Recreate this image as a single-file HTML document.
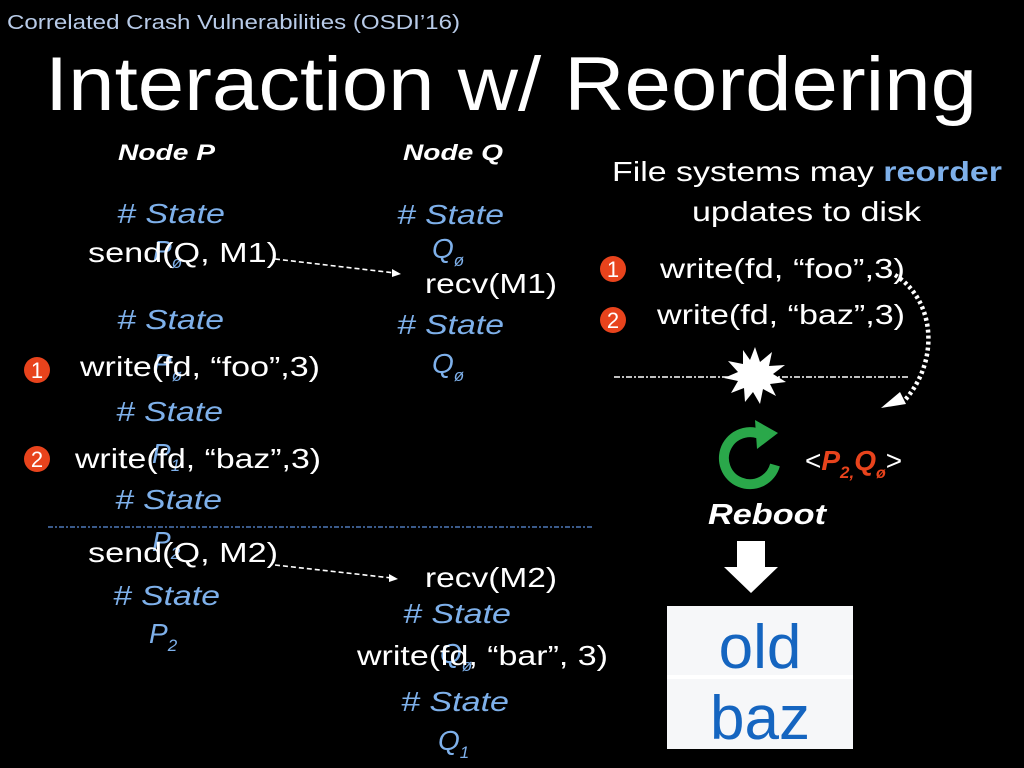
<!DOCTYPE html>
<html><head><meta charset="utf-8"><style>
html,body{margin:0;padding:0;background:#000;width:1024px;height:768px;overflow:hidden}
svg{display:block;font-family:"Liberation Sans",Arial,sans-serif}
svg text{font-family:"Liberation Sans",Arial,sans-serif}
.w{fill:#fff;font-size:28px}
.s{fill:#7eb0ea;font-size:28px;font-style:italic}
.c{fill:#e8431c}
.cn{fill:#fff;font-size:22px}
</style></head><body>
<svg width="1024" height="768" viewBox="0 0 1024 768" font-family="Liberation Sans, Arial, sans-serif">
<text x="7" y="29" fill="#b8cbe8" font-size="20" textLength="453" lengthAdjust="spacingAndGlyphs">Correlated Crash Vulnerabilities (OSDI’16)</text>
<text x="45" y="110" fill="#fff" font-size="76" textLength="932" lengthAdjust="spacingAndGlyphs">Interaction w/ Reordering</text>
<text x="118" y="160" fill="#fff" font-size="22" font-weight="bold" font-style="italic" textLength="97" lengthAdjust="spacingAndGlyphs">Node P</text>
<text x="403" y="160" fill="#fff" font-size="22" font-weight="bold" font-style="italic" textLength="100" lengthAdjust="spacingAndGlyphs">Node Q</text>

<!-- P column -->
<text class="s" x="117" y="223" textLength="108" lengthAdjust="spacingAndGlyphs"># State</text>
<text class="s" x="153" y="260">P<tspan font-size="17" dy="8">ø</tspan></text>
<text class="w" x="88" y="262" textLength="190" lengthAdjust="spacingAndGlyphs">send(Q, M1)</text>
<text class="s" x="117" y="329" textLength="107" lengthAdjust="spacingAndGlyphs"># State</text>
<text class="s" x="153" y="373">P<tspan font-size="17" dy="8">ø</tspan></text>
<text class="w" x="80" y="376" textLength="240" lengthAdjust="spacingAndGlyphs">write(fd, “foo”,3)</text>
<text class="s" x="116" y="421" textLength="107" lengthAdjust="spacingAndGlyphs"># State</text>
<text class="s" x="152" y="463">P<tspan font-size="17" dy="8">1</tspan></text>
<text class="w" x="75" y="468" textLength="246" lengthAdjust="spacingAndGlyphs">write(fd, “baz”,3)</text>
<text class="s" x="115" y="509" textLength="107" lengthAdjust="spacingAndGlyphs"># State</text>
<text class="s" x="152" y="551">P<tspan font-size="17" dy="8">2</tspan></text>
<text class="w" x="88" y="562" textLength="190" lengthAdjust="spacingAndGlyphs">send(Q, M2)</text>
<text class="s" x="113" y="605" textLength="107" lengthAdjust="spacingAndGlyphs"># State</text>
<text class="s" x="149" y="643">P<tspan font-size="17" dy="8">2</tspan></text>

<circle class="c" cx="37" cy="370" r="13"/><text class="cn" x="37" y="378" text-anchor="middle">1</text>
<circle class="c" cx="37" cy="459" r="13"/><text class="cn" x="37" y="467" text-anchor="middle">2</text>

<!-- Q column -->
<text class="s" x="397" y="224" textLength="107" lengthAdjust="spacingAndGlyphs"># State</text>
<text class="s" x="432" y="258">Q<tspan font-size="17" dy="8">ø</tspan></text>
<text class="w" x="425" y="293" textLength="132" lengthAdjust="spacingAndGlyphs">recv(M1)</text>
<text class="s" x="397" y="334" textLength="107" lengthAdjust="spacingAndGlyphs"># State</text>
<text class="s" x="432" y="373">Q<tspan font-size="17" dy="8">ø</tspan></text>
<text class="w" x="425" y="587" textLength="132" lengthAdjust="spacingAndGlyphs">recv(M2)</text>
<text class="s" x="403" y="623" textLength="108" lengthAdjust="spacingAndGlyphs"># State</text>
<text class="s" x="440" y="663">Q<tspan font-size="17" dy="8">ø</tspan></text>
<text class="w" x="357" y="665" textLength="251" lengthAdjust="spacingAndGlyphs">write(fd, “bar”, 3)</text>
<text class="s" x="401" y="711" textLength="108" lengthAdjust="spacingAndGlyphs"># State</text>
<text class="s" x="438" y="750">Q<tspan font-size="17" dy="8">1</tspan></text>

<!-- arrows -->
<line x1="275" y1="259" x2="395" y2="273" stroke="#fff" stroke-width="1.6" stroke-dasharray="5,3"/>
<polygon points="401,274 392,269 392,277" fill="#fff"/>
<line x1="275" y1="565" x2="392" y2="578" stroke="#fff" stroke-width="1.6" stroke-dasharray="5,3"/>
<polygon points="398,579 389,574 389,582" fill="#fff"/>
<line x1="48" y1="527" x2="592" y2="527" stroke="#3a5a8a" stroke-width="2" stroke-dasharray="5,2,2,2"/>

<!-- right -->
<text class="w" x="612" y="181" textLength="390" lengthAdjust="spacingAndGlyphs">File systems may <tspan fill="#7eb0ea" font-weight="bold">reorder</tspan></text>
<text class="w" x="692" y="221" textLength="229" lengthAdjust="spacingAndGlyphs">updates to disk</text>
<circle class="c" cx="613" cy="269" r="13"/><text class="cn" x="613" y="277" text-anchor="middle">1</text>
<circle class="c" cx="613" cy="320" r="13"/><text class="cn" x="613" y="328" text-anchor="middle">2</text>
<text class="w" x="660" y="278" textLength="245" lengthAdjust="spacingAndGlyphs">write(fd, “foo”,3)</text>
<text class="w" x="657" y="324" textLength="248" lengthAdjust="spacingAndGlyphs">write(fd, “baz”,3)</text>
<line x1="614" y1="377" x2="910" y2="377" stroke="#fff" stroke-width="1.5" stroke-dasharray="6,2,2,2"/>
<polygon fill="#fff" points="755,347 760,362 772,352 769,366 785,365 773,374 786,382 770,384 776,396 763,389 760,404 753,392 745,402 744,388 731,393 738,381 724,378 738,372 728,361 743,364 743,350 750,360"/>
<path d="M895,275 C935,300 940,360 905,400" fill="none" stroke="#fff" stroke-width="4.5" stroke-dasharray="3,3"/>
<polygon points="881,408 900,392 906,404" fill="#fff"/>

<!-- reboot icon -->
<path d="M765,437 A26,26 0 1,0 775,465" fill="none" stroke="#2aa84a" stroke-width="10"/>
<polygon points="755,420 778,433 757,449" fill="#2aa84a"/>
<text class="w" x="805" y="470">&lt;<tspan fill="#e8431c" font-weight="bold" font-style="italic">P<tspan font-size="17" dy="8">2,</tspan><tspan dy="-8">Q</tspan><tspan font-size="16" dy="8">ø</tspan></tspan><tspan dy="-8">&gt;</tspan></text>
<text x="708" y="524" fill="#fff" font-size="29" font-weight="bold" font-style="italic" textLength="118" lengthAdjust="spacingAndGlyphs">Reboot</text>

<polygon points="737,541 765,541 765,567 778,567 751,593 724,567 737,567" fill="#fff"/>
<rect x="667" y="606" width="186" height="143" fill="#f6f7f9"/>
<rect x="667" y="675" width="186" height="4" fill="#fff"/>
<text x="760" y="668" fill="#1565c0" font-size="62" text-anchor="middle">old</text>
<text x="760" y="739" fill="#1565c0" font-size="62" text-anchor="middle">baz</text>
</svg>
</body></html>
